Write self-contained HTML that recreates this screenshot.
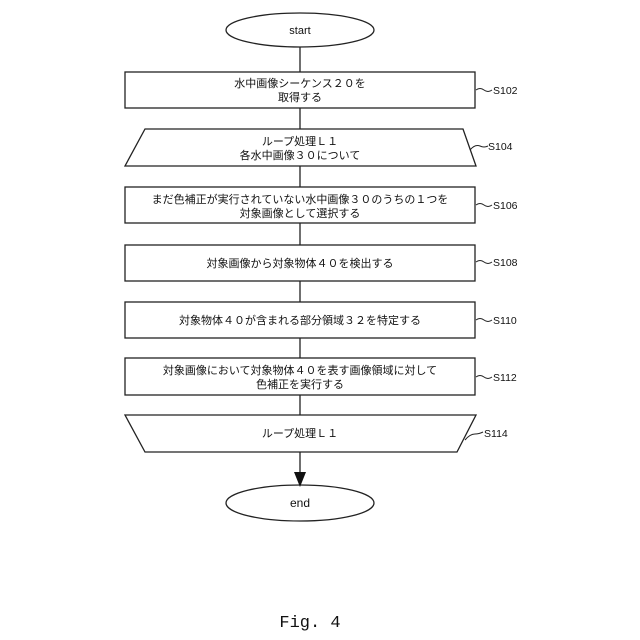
<!DOCTYPE html>
<html><head><meta charset="utf-8"><style>
html,body{margin:0;padding:0;background:#fff;}
svg{display:block}
text{font-family:"Liberation Sans","Noto Sans CJK JP",sans-serif;font-size:11px;fill:#111;}
.lab{font-size:10.5px;}
</style></head><body>
<svg width="640" height="640" viewBox="0 0 640 640" xmlns="http://www.w3.org/2000/svg">
<g stroke="#222" stroke-width="1.3" fill="none">
<line x1="300" y1="46" x2="300" y2="472"/>
</g>
<g stroke="#222" stroke-width="1.3" fill="#fff">
<ellipse cx="300" cy="30" rx="74" ry="17"/>
<rect x="125" y="72" width="350" height="36"/>
<polygon points="145,129 463,129 476,166 125,166"/>
<rect x="125" y="187" width="350" height="36"/>
<rect x="125" y="245" width="350" height="36"/>
<rect x="125" y="302" width="350" height="36"/>
<rect x="125" y="358" width="350" height="37"/>
<polygon points="125,415 476,415 457,452 145,452"/>
<ellipse cx="300" cy="503" rx="74" ry="18"/>
</g>
<polygon points="294,472 306,472 300,487" fill="#111"/>
<g stroke="#222" stroke-width="1" fill="none">
<path d="M476,90 q4,-3 8,0 q4,3 8,0"/>
<path d="M470,150 q5,-6 10,-4 q4,2 8,0"/>
<path d="M476,205 q4,-3 8,0 q4,3 8,0"/>
<path d="M476,262 q4,-3 8,0 q4,3 8,0"/>
<path d="M476,320 q4,-3 8,0 q4,3 8,0"/>
<path d="M476,377 q4,-3 8,0 q4,3 8,0"/>
<path d="M465,440 q5,-6 10,-6 q4,0 8,-2"/>
</g>
<g text-anchor="middle">
<text x="300" y="34">start</text>
<text x="300" y="87">水中画像シーケンス２０を</text>
<text x="300" y="101">取得する</text>
<text x="300" y="145">ループ処理Ｌ１</text>
<text x="300" y="159">各水中画像３０について</text>
<text x="300" y="203">まだ色補正が実行されていない水中画像３０のうちの１つを</text>
<text x="300" y="217">対象画像として選択する</text>
<text x="300" y="267">対象画像から対象物体４０を検出する</text>
<text x="300" y="324">対象物体４０が含まれる部分領域３２を特定する</text>
<text x="300" y="374">対象画像において対象物体４０を表す画像領域に対して</text>
<text x="300" y="388">色補正を実行する</text>
<text x="300" y="437">ループ処理Ｌ１</text>
<text x="300" y="507" style="font-size:12px">end</text>
</g>
<g class="lab">
<text class="lab" x="493" y="94">S102</text>
<text class="lab" x="488" y="150">S104</text>
<text class="lab" x="493" y="209">S106</text>
<text class="lab" x="493" y="266">S108</text>
<text class="lab" x="493" y="324">S110</text>
<text class="lab" x="493" y="381">S112</text>
<text class="lab" x="484" y="437">S114</text>
</g>
<text x="310" y="627" text-anchor="middle" style="font-family:'Liberation Mono',monospace;font-size:17px">Fig. 4</text>
</svg>
</body></html>
